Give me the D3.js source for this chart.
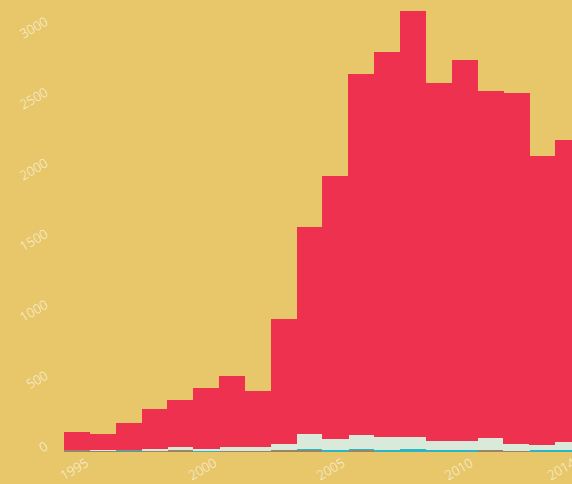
<!DOCTYPE html>
<html><head><meta charset="utf-8">
<script src="https://cdn.jsdelivr.net/npm/d3@7"></script>
<style>
html,body{margin:0;padding:0;background:#e8c76a;overflow:hidden}
svg{display:block}
text{font-family:"Open Sans",Lato,sans-serif;font-weight:300}
</style></head>
<body>
<svg id="chart" width="572" height="484"></svg>
<script>
const years = [1995,1996,1997,1998,1999,2000,2001,2002,2003,2004,2005,2006,2007,2008,2009,2010,2011,2012,2013,2014];
const brown = [12,5,5,6,12,0,6,6,8,11,0,12,0,0,0,0,12,5,0,0];
const teal  = [0,0,6,0,0,6,0,0,0,7,10,6,14,18,10,10,0,0,12,12];
const mint  = [0,8,0,12,20,12,26,26,45,106,78,99,88,84,64,64,83,46,34,55];
const red   = [124,111,190,282,332,430,501,395,883,1461,1858,2549,2719,3009,2528,2691,2448,2478,2041,2133];
const yTicks = [0,500,1000,1500,2000,2500,3000];
const xTicks = [1995,2000,2005,2010,2014];
const seriesNames = ["brown","teal","mint","red"];
const colors = ["#9a8468","#2ab7c3","#d9eadb","#ef3150"];

const svg = d3.select("#chart");
const table = years.map((y,i)=>({year:y,brown:brown[i],teal:teal[i],mint:mint[i],red:red[i]}));
const stack = d3.stack().keys(seriesNames)(table);
const maxTotal = d3.max(table, d=>d.brown+d.teal+d.mint+d.red);

const x = d3.scaleBand().domain(years).range([64, 64+25.84*years.length]).padding(0);
const y = d3.scaleLinear().domain([0, maxTotal]).range([451.5, 11]);
const xl = d3.scaleLinear().domain([1995,2010]).range([76.7,461.2]);

svg.append("g").attr("shape-rendering","crispEdges")
  .selectAll("g").data(stack).join("g")
  .attr("fill",(d,i)=>colors[i])
  .selectAll("rect").data(d=>d).join("rect")
  .attr("x",d=>x(d.data.year))
  .attr("width",x.bandwidth()+0.5)
  .attr("y",d=>y(d[1]))
  .attr("height",d=>Math.max(0,y(d[0])-y(d[1])));

const lab = "rgba(255,255,255,0.85)";
svg.append("g").selectAll("text").data(yTicks).join("text")
  .attr("transform",d=>`translate(49,${y(d)-2.5}) rotate(-30)`)
  .attr("text-anchor","end")
  .attr("font-size",13)
  .attr("fill",lab)
  .text(d=>d);

svg.append("g").selectAll("text").data(xTicks).join("text")
  .attr("transform",d=>`translate(${xl(d)},473) rotate(-30)`)
  .attr("text-anchor","middle")
  .attr("font-size",13)
  .attr("fill",lab)
  .text(d=>d);
</script>
</body></html>
